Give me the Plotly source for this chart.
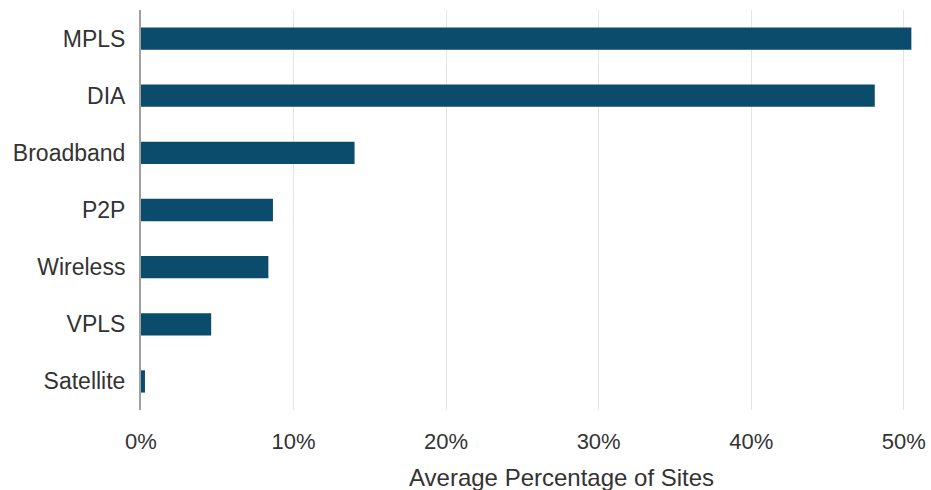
import plotly.graph_objects as go

categories = ["MPLS", "DIA", "Broadband", "P2P", "Wireless", "VPLS", "Satellite"]
values = [50.5, 48.1, 14.0, 8.65, 8.35, 4.6, 0.26]
tick_vals = [0, 10, 20, 30, 40, 50]
tick_text = ["0%", "10%", "20%", "30%", "40%", "50%"]
x_title = "Average Percentage of Sites"

FONT = "Liberation Sans, Arial, Helvetica, sans-serif"
TEXT = "#333333"

fig = go.Figure(
    go.Bar(
        x=values,
        y=categories,
        orientation="h",
        marker=dict(color="#0b4b6b", line=dict(width=0)),
        hoverinfo="x+y",
    )
)

fig.update_layout(
    width=931,
    height=490,
    margin=dict(l=141, r=12, t=10, b=80, autoexpand=False),
    paper_bgcolor="white",
    plot_bgcolor="white",
    bargap=0.61,
    showlegend=False,
    font=dict(family=FONT, size=23, color=TEXT),
    annotations=[
        dict(
            text=x_title,
            xref="paper",
            yref="paper",
            x=0.54,
            y=-0.1675,
            xanchor="center",
            yanchor="middle",
            showarrow=False,
            font=dict(size=24, color=TEXT),
        )
    ],
)

fig.update_xaxes(
    range=[0, 51],
    tickvals=tick_vals,
    ticktext=tick_text,
    showgrid=True,
    gridcolor="#e5e5e5",
    gridwidth=1,
    zeroline=False,
    showline=False,
    ticks="",
    automargin=False,
    ticklabelstandoff=16,
    tickfont=dict(size=22, color=TEXT),
)

fig.update_yaxes(
    autorange="reversed",
    showgrid=False,
    zeroline=False,
    showline=True,
    linecolor="#a0a0a0",
    linewidth=2,
    ticks="",
    automargin=False,
    ticklabelstandoff=9,
    tickfont=dict(size=23, color=TEXT),
)

fig.write_html(
    "out.html",
    config={"displayModeBar": False},
    post_script="document.body.style.margin='0';document.body.style.overflow='hidden';",
)
